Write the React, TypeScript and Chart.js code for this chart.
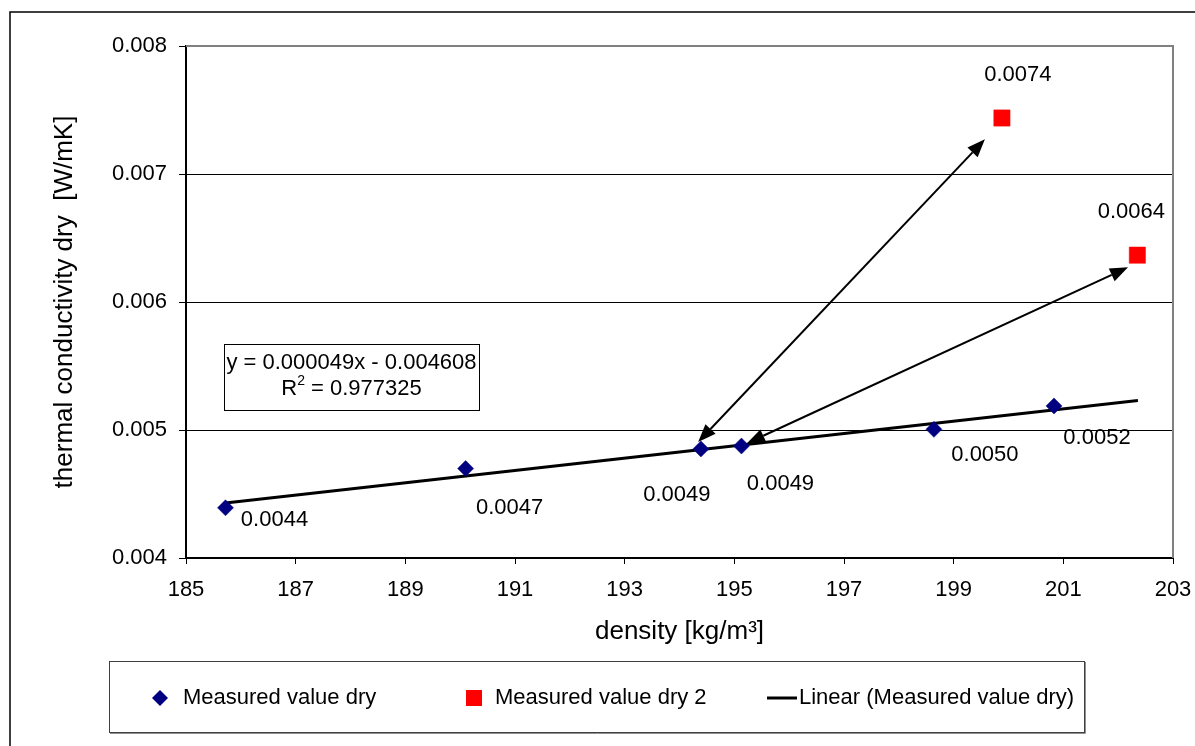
import React, { useEffect, useRef } from "react";
import { Chart, registerables } from "chart.js";

Chart.register(...registerables);

// ---- data ----
const dryDensity = [185.72, 190.1, 194.39, 195.13, 198.64, 200.83];
const dryConductivity = [0.004392, 0.004699, 0.004852, 0.004875, 0.005005, 0.005188];
const dry2Density = [199.88, 202.35];
const dry2Conductivity = [0.0074375, 0.006366];
const trendDensity = [185.72, 202.36];
const trendConductivity = [0.00443, 0.00523];
// double-headed arrows: endpoints in data units
const arrowFrom = [
  [199.57, 0.007271],
  [202.18, 0.006271],
];
const arrowTo = [
  [194.34, 0.004906],
  [195.23, 0.004896],
];
const xTicks = [185, 187, 189, 191, 193, 195, 197, 199, 201, 203];
const yTicks = [0.004, 0.005, 0.006, 0.007, 0.008];
const equationText = "y = 0.000049x - 0.004608";
const r2Value = "0.977325";
const seriesNames = ["Measured value dry", "Measured value dry 2", "Linear (Measured value dry)"];
const xTitle = "density [kg/m³]";
const yTitle = "thermal conductivity dry  [W/mK]";

// label placement offsets (px) relative to each point
const dryLabelOffsets = [
  [49, 12],
  [44, 39],
  [-24, 46],
  [39, 38],
  [51, 26],
  [43, 32],
];
const dry2LabelOffsets = [
  [16, -43],
  [-6, -43],
];

const FONT = "'Liberation Sans', Arial, sans-serif";
const NAVY = "#000080";
const RED = "#FF0000";

function drawArrowHead(ctx: CanvasRenderingContext2D, tx: number, ty: number, fx: number, fy: number) {
  const ang = Math.atan2(ty - fy, tx - fx);
  const len = 18;
  const hw = 7;
  const bx = tx - len * Math.cos(ang);
  const by = ty - len * Math.sin(ang);
  ctx.beginPath();
  ctx.moveTo(tx, ty);
  ctx.lineTo(bx + hw * Math.sin(ang), by - hw * Math.cos(ang));
  ctx.lineTo(bx - hw * Math.sin(ang), by + hw * Math.cos(ang));
  ctx.closePath();
  ctx.fill();
  return [bx, by];
}

const overlayPlugin = {
  id: "overlay",
  afterDatasetsDraw(chart: any) {
    const ctx: CanvasRenderingContext2D = chart.ctx;
    const xs = chart.scales.x;
    const ys = chart.scales.y;
    const area = chart.chartArea;
    ctx.save();

    // plot area border (top / right)
    ctx.strokeStyle = "#808080";
    ctx.lineWidth = 2;
    ctx.beginPath();
    ctx.moveTo(area.left, area.top);
    ctx.lineTo(area.right, area.top);
    ctx.lineTo(area.right, area.bottom);
    ctx.stroke();

    // arrows
    ctx.fillStyle = "#000";
    ctx.strokeStyle = "#000";
    ctx.lineWidth = 2;
    for (let i = 0; i < arrowFrom.length; i++) {
      const ax = xs.getPixelForValue(arrowFrom[i][0]);
      const ay = ys.getPixelForValue(arrowFrom[i][1]);
      const bx = xs.getPixelForValue(arrowTo[i][0]);
      const by = ys.getPixelForValue(arrowTo[i][1]);
      const [a2x, a2y] = drawArrowHead(ctx, ax, ay, bx, by);
      const [b2x, b2y] = drawArrowHead(ctx, bx, by, ax, ay);
      ctx.beginPath();
      ctx.moveTo(a2x, a2y);
      ctx.lineTo(b2x, b2y);
      ctx.stroke();
    }

    // data labels
    ctx.fillStyle = "#000";
    ctx.font = `22px ${FONT}`;
    ctx.textAlign = "center";
    ctx.textBaseline = "middle";
    dryDensity.forEach((d, i) => {
      const px = xs.getPixelForValue(d) + dryLabelOffsets[i][0];
      const py = ys.getPixelForValue(dryConductivity[i]) + dryLabelOffsets[i][1];
      ctx.fillText(dryConductivity[i].toFixed(4), px, py);
    });
    dry2Density.forEach((d, i) => {
      const px = xs.getPixelForValue(d) + dry2LabelOffsets[i][0];
      const py = ys.getPixelForValue(dry2Conductivity[i]) + dry2LabelOffsets[i][1];
      ctx.fillText(dry2Conductivity[i].toFixed(4), px, py);
    });

    // equation box
    const ex1 = 224, ey1 = 344, ex2 = 479, ey2 = 410;
    ctx.fillStyle = "#fff";
    ctx.fillRect(ex1, ey1, ex2 - ex1, ey2 - ey1);
    ctx.strokeStyle = "#000";
    ctx.lineWidth = 1;
    ctx.strokeRect(ex1 + 0.5, ey1 + 0.5, ex2 - ex1, ey2 - ey1);
    ctx.fillStyle = "#000";
    const ecx = (ex1 + ex2) / 2;
    ctx.font = `22px ${FONT}`;
    ctx.textAlign = "center";
    ctx.fillText(equationText, ecx, 363);
    ctx.textAlign = "left";
    const rW = ctx.measureText("R").width;
    const restText = " = " + r2Value;
    const restW = ctx.measureText(restText).width;
    ctx.font = `14px ${FONT}`;
    const supW = ctx.measureText("2").width;
    const total = rW + supW + restW;
    let sx = ecx - total / 2;
    ctx.font = `22px ${FONT}`;
    ctx.fillText("R", sx, 389);
    sx += rW;
    ctx.font = `14px ${FONT}`;
    ctx.fillText("2", sx, 381);
    sx += supW;
    ctx.font = `22px ${FONT}`;
    ctx.fillText(restText, sx, 389);

    // axis titles
    ctx.textAlign = "center";
    ctx.textBaseline = "middle";
    ctx.font = `26px ${FONT}`;
    ctx.fillText(xTitle, (area.left + area.right) / 2, 632);
    ctx.save();
    ctx.translate(65, (area.top + area.bottom) / 2);
    ctx.rotate(-Math.PI / 2);
    ctx.fillText(yTitle, 0, 0);
    ctx.restore();

    // legend
    const lx1 = 109, ly1 = 661, lx2 = 1084, ly2 = 732;
    ctx.strokeStyle = "#404040";
    ctx.lineWidth = 1;
    ctx.strokeRect(lx1 + 0.5, ly1 + 0.5, lx2 - lx1, ly2 - ly1);
    ctx.strokeStyle = "#909090";
    ctx.beginPath();
    ctx.moveTo(lx1 + 1, ly2 + 1.5);
    ctx.lineTo(lx2 + 1.5, ly2 + 1.5);
    ctx.lineTo(lx2 + 1.5, ly1 + 1);
    ctx.stroke();
    const lyc = 698;
    ctx.fillStyle = NAVY;
    ctx.beginPath();
    ctx.moveTo(160 - 8, lyc);
    ctx.lineTo(160, lyc - 8);
    ctx.lineTo(160 + 8, lyc);
    ctx.lineTo(160, lyc + 8);
    ctx.closePath();
    ctx.fill();
    ctx.fillStyle = RED;
    ctx.fillRect(466, lyc - 8, 16, 16);
    ctx.strokeStyle = "#000";
    ctx.lineWidth = 3;
    ctx.beginPath();
    ctx.moveTo(767, lyc);
    ctx.lineTo(797, lyc);
    ctx.stroke();
    ctx.fillStyle = "#000";
    ctx.textAlign = "left";
    ctx.font = `22px ${FONT}`;
    ctx.fillText(seriesNames[0], 183, lyc);
    ctx.fillText(seriesNames[1], 495, lyc);
    ctx.fillText(seriesNames[2], 799, lyc);

    // outer chart frame
    ctx.strokeStyle = "#000";
    ctx.lineWidth = 1.5;
    ctx.beginPath();
    ctx.moveTo(10, 760);
    ctx.lineTo(10, 12);
    ctx.lineTo(1210, 12);
    ctx.stroke();

    ctx.restore();
  },
};

export default function App() {
  const ref = useRef<HTMLCanvasElement | null>(null);
  useEffect(() => {
    document.body.style.margin = "0";
    const canvas = ref.current;
    if (!canvas) return;
    const chart = new Chart(canvas, {
      type: "scatter",
      data: {
        datasets: [
          {
            label: seriesNames[2],
            data: trendDensity.map((x, i) => ({ x, y: trendConductivity[i] })),
            showLine: true,
            borderColor: "#000",
            borderWidth: 3,
            pointRadius: 0,
            order: 3,
          },
          {
            label: seriesNames[0],
            data: dryDensity.map((x, i) => ({ x, y: dryConductivity[i] })),
            pointStyle: "rectRot",
            pointRadius: 8,
            backgroundColor: NAVY,
            borderColor: NAVY,
            borderWidth: 0.5,
            order: 1,
          },
          {
            label: seriesNames[1],
            data: dry2Density.map((x, i) => ({ x, y: dry2Conductivity[i] })),
            pointStyle: "rect",
            pointRadius: 11.5,
            backgroundColor: RED,
            borderColor: RED,
            borderWidth: 0.5,
            order: 2,
          },
        ],
      },
      options: {
        responsive: false,
        animation: false,
        layout: { padding: { left: 0, top: 46, right: 22, bottom: 0 } },
        plugins: {
          legend: { display: false },
          tooltip: { enabled: false },
          title: { display: false },
        },
        scales: {
          x: {
            type: "linear",
            min: xTicks[0],
            max: xTicks[xTicks.length - 1],
            afterBuildTicks: (scale: any) => {
              scale.ticks = xTicks.map((v) => ({ value: v }));
            },
            afterFit: (scale: any) => {
              scale.height = 188;
              scale.paddingLeft = 0;
              scale.paddingRight = 0;
            },
            ticks: {
              color: "#000",
              font: { family: FONT, size: 22 },
              padding: 13,
              maxRotation: 0,
              autoSkip: false,
              callback: (v: any) => String(v),
            },
            grid: {
              drawOnChartArea: false,
              drawTicks: true,
              tickLength: 6,
              color: "#000",
              lineWidth: 1,
            },
            border: { color: "#000", width: 2 },
          },
          y: {
            type: "linear",
            min: yTicks[0],
            max: yTicks[yTicks.length - 1],
            afterBuildTicks: (scale: any) => {
              scale.ticks = yTicks.map((v) => ({ value: v }));
            },
            afterFit: (scale: any) => {
              scale.width = 186;
              scale.paddingTop = 0;
              scale.paddingBottom = 0;
            },
            ticks: {
              color: "#000",
              font: { family: FONT, size: 22 },
              padding: 12,
              autoSkip: false,
              callback: (v: any) => Number(v).toFixed(3),
            },
            grid: {
              drawOnChartArea: true,
              drawTicks: true,
              tickLength: 7,
              color: "#000",
              lineWidth: 1,
            },
            border: { color: "#000", width: 2 },
          },
        },
      },
      plugins: [overlayPlugin],
    });
    return () => chart.destroy();
  }, []);
  return (
    <div style={{ width: 1195, height: 746, background: "#fff" }}>
      <canvas ref={ref} width={1195} height={746} style={{ display: "block" }} />
    </div>
  );
}
